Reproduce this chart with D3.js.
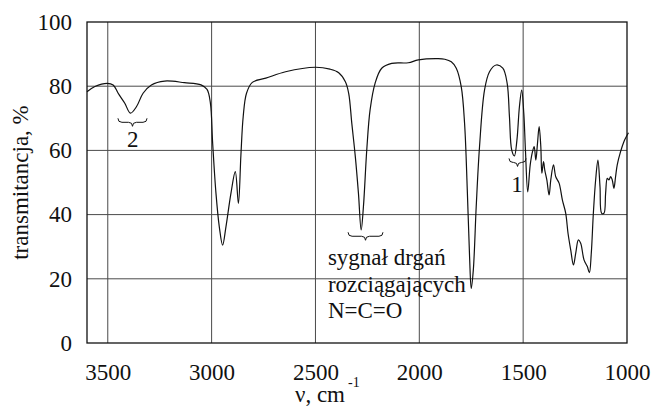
<!DOCTYPE html>
<html>
<head>
<meta charset="utf-8">
<script src="https://cdn.jsdelivr.net/npm/d3@7"></script>
<style>
  body { margin: 0; background: #fff; }
  .grid line { stroke: #4a4a4a; stroke-width: 1; }
  .spectrum { fill: none; stroke: #111; stroke-width: 1.2; }
  .brace { fill: none; stroke: #111; stroke-width: 1; }
</style>
</head>
<body>
<svg width="659" height="408"></svg>
<script>
// IR spectrum: wavenumber (cm-1) and transmittance (%)
const wavenumber = [
  3600, 3562, 3503, 3474, 3450, 3418, 3391, 3362, 3330, 3290, 3226, 3131, 3051, 3022,
  3006, 2995, 2979, 2963, 2947, 2931, 2907, 2886, 2871, 2859, 2848, 2832, 2804, 2739,
  2644, 2500, 2430, 2388, 2356, 2340, 2325, 2308, 2293, 2280, 2269, 2253, 2237, 2213,
  2181, 2133, 2053, 2005, 1909, 1877, 1846, 1822, 1798, 1782, 1769, 1758, 1750, 1740,
  1726, 1710, 1686, 1662, 1630, 1598, 1577, 1566, 1555, 1542, 1530, 1518, 1507, 1497,
  1489, 1478, 1466, 1455, 1447, 1439, 1431, 1423, 1415, 1410, 1402, 1396, 1386, 1375,
  1367, 1354, 1343, 1327, 1311, 1295, 1284, 1271, 1258, 1247, 1234, 1223, 1207, 1191,
  1181, 1172, 1162, 1151, 1140, 1130, 1122, 1111, 1103, 1095, 1087, 1079, 1071, 1063,
  1055, 1047, 1031, 1015, 1003, 993
];
const transmittance = [
  78.3, 79.9, 80.9, 80.4, 77.8, 74.7, 71.6, 73.6, 77.8, 80.4, 81.6, 81.1, 80.4, 79.0,
  74.8, 62.2, 46.6, 36.2, 30.5, 36.2, 46.6, 53.4, 43.5, 58.5, 70.5, 77.8, 81.2, 82.5,
  84.5, 85.9, 85.3, 84.2, 81.4, 77.8, 68.4, 58.0, 46.6, 35.2, 42.5, 60.1, 72.6, 80.9,
  85.6, 87.1, 87.3, 88.2, 88.6, 88.4, 87.6, 85.6, 79.8, 68.4, 47.7, 26.9, 17.0, 22.7,
  42.5, 61.2, 78.8, 84.5, 86.6, 85.6, 80.9, 70.5, 60.1, 58.3, 63.2, 73.6, 78.8, 71.6,
  60.1, 47.1, 55.5, 59.6, 61.2, 57.0, 62.2, 67.4, 61.2, 52.9, 56.5, 53.9, 50.8, 46.1,
  50.8, 55.5, 51.8, 49.8, 44.5, 40.4, 34.2, 29.0, 24.3, 27.9, 32.1, 31.1, 25.9, 23.8,
  21.9, 27.9, 40.4, 50.8, 57.0, 48.7, 40.4, 40.4, 46.6, 51.3, 50.8, 51.8, 50.8, 48.2,
  51.8, 55.5, 59.6, 62.7, 64.3, 65.5
];

const xTicks = [3500, 3000, 2500, 2000, 1500, 1000];
const yTicks = [0, 20, 40, 60, 80, 100];

// annotations: brace span (cm-1), brace top (%), label lines
const braces = [
  { from: 3451, to: 3311, top: 70.0, label: ["2"], lx: 3380, ly: 147, anchor: "middle" },
  { from: 2343, to: 2175, top: 34.5, label: ["sygnał drgań", "rozciągających", "N=C=O"], lx: 2440, ly: 265, anchor: "start" },
  { from: 1568, to: 1486, top: 57.5, label: ["1"], lx: 1530, ly: 192, anchor: "middle" }
];

const FONT = '"Liberation Serif", "Times New Roman", serif';

const svg = d3.select("svg");
const margin = { left: 87, right: 32, top: 22, bottom: 65 };
const width = 659, height = 408;

const x = d3.scaleLinear().domain([3600, 1000]).range([margin.left, width - margin.right]);
const y = d3.scaleLinear().domain([0, 100]).range([height - margin.bottom, margin.top]);

// grid
const grid = svg.append("g").classed("grid", true);
grid.selectAll(".vx")
  .data(xTicks.filter((d) => d !== 1000))
  .join("line")
  .attr("x1", (d) => x(d)).attr("x2", (d) => x(d))
  .attr("y1", y(0)).attr("y2", y(100));
grid.selectAll(".hy")
  .data(yTicks.filter((d) => d !== 0 && d !== 100))
  .join("line")
  .attr("x1", x(3600)).attr("x2", x(1000))
  .attr("y1", (d) => y(d)).attr("y2", (d) => y(d));

// frame
svg.append("rect")
  .attr("x", x(3600)).attr("y", y(100))
  .attr("width", x(1000) - x(3600)).attr("height", y(0) - y(100))
  .attr("fill", "none").attr("stroke", "#111").attr("stroke-width", 1.3);

// axes (labels only, no tick marks)
const xAxis = svg.append("g")
  .attr("transform", `translate(0,${y(0)})`)
  .call(d3.axisBottom(x).tickValues(xTicks).tickSize(0).tickPadding(21).tickFormat(d3.format("d")));
xAxis.select(".domain").remove();

const yAxis = svg.append("g")
  .attr("transform", `translate(${x(3600)},0)`)
  .call(d3.axisLeft(y).tickValues(yTicks).tickSize(0).tickPadding(15));
yAxis.select(".domain").remove();

svg.selectAll(".tick text")
  .style("font-family", FONT)
  .style("font-size", "23px")
  .attr("fill", "#111");

// spectrum
const points = wavenumber.map((w, i) => [w, transmittance[i]]);
const line = d3.line()
  .x((d) => x(d[0]))
  .y((d) => y(d[1]))
  .curve(d3.curveCatmullRom.alpha(0.5));
svg.append("path").datum(points).classed("spectrum", true).attr("d", line);

// braces
function bracePath(x1, x2, y0) {
  const h = 8, mid = (x1 + x2) / 2, r = 4;
  const p = d3.path();
  p.moveTo(x1, y0);
  p.quadraticCurveTo(x1, y0 + h / 2, x1 + r, y0 + h / 2);
  p.lineTo(mid - r, y0 + h / 2);
  p.quadraticCurveTo(mid, y0 + h / 2, mid, y0 + h);
  p.quadraticCurveTo(mid, y0 + h / 2, mid + r, y0 + h / 2);
  p.lineTo(x2 - r, y0 + h / 2);
  p.quadraticCurveTo(x2, y0 + h / 2, x2, y0);
  return p.toString();
}
svg.selectAll(".brace")
  .data(braces)
  .join("path")
  .classed("brace", true)
  .attr("d", (d) => bracePath(x(d.from), x(d.to), y(d.top)));

braces.forEach((b) => {
  const t = svg.append("text")
    .attr("x", x(b.lx)).attr("y", b.ly)
    .attr("text-anchor", b.anchor)
    .attr("fill", "#111")
    .style("font-family", FONT)
    .style("font-size", "23px");
  b.label.forEach((s, i) => {
    t.append("tspan").attr("x", x(b.lx)).attr("dy", i === 0 ? 0 : 26.5).text(s);
  });
});

// axis titles
const xt = svg.append("text")
  .attr("x", 295).attr("y", 402)
  .attr("fill", "#111")
  .style("font-family", FONT)
  .style("font-size", "23px");
xt.append("tspan").text("ν, cm");
xt.append("tspan").attr("dx", 3).attr("dy", -15).style("font-size", "14px").text("-1");

svg.append("text")
  .attr("transform", `translate(28,${(y(0) + y(100)) / 2}) rotate(-90)`)
  .attr("text-anchor", "middle")
  .attr("fill", "#111")
  .style("font-family", FONT)
  .style("font-size", "23px")
  .text("transmitancja, %");
</script>
</body>
</html>
